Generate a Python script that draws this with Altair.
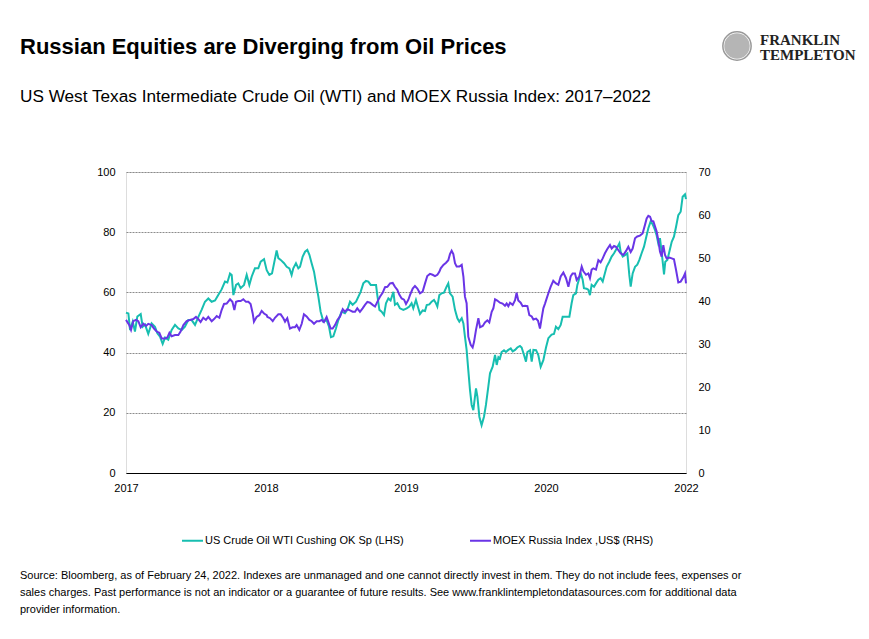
import altair as alt
import pandas as pd

# ---------------- data ----------------
year_ticks = [0, 1, 2, 3, 4]
year_labels = ["2017", "2018", "2019", "2020", "2022"]
left_ticks = [0, 20, 40, 60, 80, 100]
right_ticks = [0, 10, 20, 30, 40, 50, 60, 70]
series_names = ["US Crude Oil WTI Cushing OK Sp (LHS)", "MOEX Russia Index ,US$ (RHS)"]
series_colors = ["#17BEB0", "#6A35E6"]

oil_points = [
    (0.0, 53.3), (0.017, 53), (0.029, 47.5), (0.048, 50.3), (0.064, 47), (0.081, 52), (0.105, 52.8),
    (0.119, 48.6), (0.136, 49.3), (0.159, 46.2), (0.183, 49.7), (0.207, 48.6), (0.224, 46.4),
    (0.243, 45.3), (0.262, 42.9), (0.279, 45), (0.302, 44.3), (0.326, 47.5), (0.350, 49.2),
    (0.374, 48), (0.398, 47.5), (0.421, 48.6), (0.445, 50.8), (0.469, 50.8), (0.493, 49.2),
    (0.517, 51.9), (0.540, 54.2), (0.564, 56.9), (0.588, 58), (0.612, 56.9), (0.636, 57.3),
    (0.659, 59.1), (0.683, 61), (0.707, 63.6), (0.724, 63.3), (0.743, 66.3), (0.755, 65.8),
    (0.767, 59.1), (0.786, 62.5), (0.802, 63), (0.819, 61.4), (0.843, 62.5), (0.862, 65.8),
    (0.881, 62.5), (0.898, 65.3), (0.921, 68), (0.945, 68), (0.962, 70.2), (0.986, 71),
    (1.005, 67.4), (1.024, 65.8), (1.043, 66.3), (1.076, 73.9), (1.088, 71.4), (1.105, 70.8),
    (1.129, 69.7), (1.148, 68.5), (1.167, 68), (1.183, 65.8), (1.195, 68), (1.214, 69.7),
    (1.231, 68), (1.243, 68.5), (1.262, 71.9), (1.279, 73.5), (1.295, 74.1), (1.310, 72.5),
    (1.326, 69.7), (1.343, 66.9), (1.357, 63), (1.374, 58.6), (1.390, 53.6), (1.410, 50.3),
    (1.433, 50.8), (1.450, 48.6), (1.464, 45.1), (1.481, 45.4), (1.500, 48.1), (1.517, 50.8),
    (1.540, 53.6), (1.564, 53.1), (1.581, 54.2), (1.600, 56.9), (1.619, 55.9), (1.643, 56.9),
    (1.660, 58.6), (1.676, 60.2), (1.695, 63), (1.714, 63.8), (1.731, 63.6), (1.748, 62.5),
    (1.767, 62.5), (1.786, 62.5), (1.795, 59.1), (1.810, 54.2), (1.826, 53.6), (1.843, 52.5),
    (1.857, 56.4), (1.874, 58), (1.890, 57.3), (1.910, 60.2), (1.921, 55.9), (1.938, 56.4),
    (1.957, 54.7), (1.981, 54.2), (2.005, 54.7), (2.024, 55.3), (2.040, 56.4), (2.052, 54.7),
    (2.071, 57.5), (2.088, 54.7), (2.100, 52.8), (2.119, 54), (2.136, 53.8), (2.148, 55.8),
    (2.167, 56), (2.183, 56.9), (2.200, 57.5), (2.214, 56.4), (2.224, 55.3), (2.238, 59.1),
    (2.255, 59.7), (2.271, 59.9), (2.290, 61.9), (2.302, 63), (2.314, 59.7), (2.333, 58.6),
    (2.350, 54.2), (2.367, 51.4), (2.381, 50.3), (2.398, 51.4), (2.410, 49.7), (2.421, 45.3),
    (2.433, 40.9), (2.445, 34.2), (2.457, 27.6), (2.469, 22.6), (2.481, 20.9), (2.500, 28.1),
    (2.510, 25.4), (2.524, 18.7), (2.540, 15.9), (2.557, 18.7), (2.571, 22.6), (2.588, 28.7),
    (2.600, 33.1), (2.619, 35.3), (2.636, 39.2), (2.648, 35.9), (2.660, 38.5), (2.671, 38),
    (2.683, 40.2), (2.700, 40.8), (2.714, 40.2), (2.731, 40.9), (2.748, 41.4), (2.762, 40.4),
    (2.779, 40.9), (2.795, 41.7), (2.814, 42.2), (2.826, 41.7), (2.843, 39.2), (2.857, 37),
    (2.867, 40.2), (2.886, 40.8), (2.898, 37), (2.910, 40.9), (2.929, 40.8), (2.945, 39.2),
    (2.962, 35.3), (2.981, 37.5), (3.000, 41.7), (3.017, 44.8), (3.040, 46), (3.057, 46.2),
    (3.071, 48.6), (3.088, 47.8), (3.105, 49.2), (3.119, 51.9), (3.143, 51.9), (3.167, 51.9),
    (3.183, 56.4), (3.195, 59.1), (3.214, 59.7), (3.224, 62.5), (3.238, 64.7), (3.248, 66.3),
    (3.262, 64.2), (3.271, 61.4), (3.290, 61.2), (3.302, 60.9), (3.314, 59.1), (3.326, 62.5),
    (3.343, 61.9), (3.357, 63), (3.374, 64.2), (3.390, 64.7), (3.405, 63.6), (3.414, 65.2),
    (3.433, 68.5), (3.452, 70.2), (3.469, 71.9), (3.486, 73), (3.505, 74.6), (3.524, 76.3),
    (3.533, 73.5), (3.548, 71.9), (3.564, 72.4), (3.581, 73), (3.595, 65.8), (3.605, 61.9),
    (3.619, 66.3), (3.636, 68.5), (3.652, 69.2), (3.667, 70.8), (3.683, 73), (3.700, 75.2),
    (3.714, 78), (3.731, 81.3), (3.748, 83.7), (3.762, 82.6), (3.779, 80.7), (3.790, 79),
    (3.802, 76.3), (3.814, 78), (3.826, 73.5), (3.843, 66), (3.852, 70.2), (3.867, 70.8),
    (3.881, 73.5), (3.898, 76.8), (3.914, 78.5), (3.929, 81.8), (3.945, 85.7), (3.962, 86.8),
    (3.976, 91.8), (3.993, 92.6), (4.0, 91),
]

moex_points = [
    (0.0, 35.6), (0.024, 34.4), (0.036, 33.3), (0.052, 35.3), (0.071, 35.6), (0.088, 35.3),
    (0.105, 33.9), (0.124, 34.7), (0.143, 34.2), (0.159, 34.7), (0.183, 34.4), (0.200, 33.6),
    (0.219, 32.9), (0.238, 32.6), (0.255, 31.3), (0.279, 31.3), (0.295, 31.5), (0.310, 32.6),
    (0.326, 31.8), (0.350, 32.1), (0.374, 32.1), (0.390, 32.9), (0.410, 34.4), (0.433, 35.3),
    (0.457, 35.6), (0.481, 35.8), (0.500, 36.3), (0.517, 35.8), (0.533, 35.1), (0.552, 36.1),
    (0.571, 35.6), (0.588, 36.3), (0.612, 35.3), (0.629, 35.8), (0.648, 36.5), (0.667, 36.1),
    (0.683, 37.9), (0.700, 39.3), (0.719, 39.4), (0.743, 40.4), (0.760, 39.8), (0.774, 37.9),
    (0.786, 39.8), (0.802, 40), (0.819, 40), (0.838, 40.4), (0.857, 39.8), (0.874, 39.8),
    (0.890, 39.3), (0.905, 37.1), (0.914, 35.2), (0.933, 36.3), (0.952, 36.7), (0.969, 37.7),
    (0.986, 37.1), (1.005, 36.7), (1.010, 36.3), (1.029, 36), (1.048, 35.3), (1.064, 36.1),
    (1.088, 36.9), (1.105, 36.9), (1.124, 36), (1.136, 35.2), (1.152, 36), (1.171, 33.6),
    (1.190, 33.9), (1.207, 33.9), (1.219, 34.4), (1.238, 33.3), (1.255, 34.7), (1.271, 36.9),
    (1.290, 36.4), (1.310, 35.6), (1.326, 35.3), (1.343, 34.7), (1.362, 35.3), (1.381, 35.3),
    (1.398, 35.6), (1.414, 35.1), (1.433, 36.3), (1.450, 34.7), (1.462, 33.6), (1.476, 33.6),
    (1.493, 34.4), (1.510, 35.6), (1.529, 36.4), (1.548, 38.1), (1.564, 37.5), (1.581, 38.1),
    (1.600, 37.8), (1.619, 37.5), (1.636, 37.5), (1.652, 38.3), (1.671, 37.5), (1.690, 38.3),
    (1.707, 39.1), (1.724, 39.8), (1.743, 39.6), (1.762, 39.1), (1.779, 38.7), (1.795, 39.8),
    (1.814, 41), (1.833, 41.9), (1.850, 43.2), (1.867, 43.3), (1.886, 44.1), (1.905, 44.2),
    (1.921, 43.3), (1.938, 42.6), (1.952, 41.5), (1.969, 40.6), (1.986, 40.3), (2.000, 39.3),
    (2.017, 40.3), (2.029, 41.4), (2.048, 42.9), (2.064, 43.5), (2.081, 42.9), (2.100, 41.8),
    (2.119, 42.2), (2.136, 44.1), (2.152, 45.8), (2.171, 46.3), (2.190, 46.1), (2.207, 45.8),
    (2.224, 46.1), (2.238, 46.8), (2.248, 47.6), (2.267, 48.4), (2.286, 48.9), (2.302, 49.5),
    (2.314, 50.9), (2.326, 51.7), (2.338, 50.9), (2.350, 48.8), (2.362, 48), (2.381, 48),
    (2.398, 48.4), (2.410, 45.7), (2.421, 41), (2.433, 39.5), (2.445, 31.7), (2.462, 29.8),
    (2.476, 29.2), (2.486, 30.5), (2.500, 33.3), (2.517, 36), (2.529, 33.9), (2.548, 34.2),
    (2.564, 35), (2.581, 35.5), (2.595, 35), (2.612, 37.5), (2.624, 38.3), (2.636, 40.4),
    (2.652, 40.1), (2.671, 39.6), (2.690, 39.4), (2.707, 38.9), (2.719, 39.4), (2.731, 38.8),
    (2.743, 39.6), (2.762, 39.1), (2.779, 40.2), (2.790, 41.9), (2.802, 40.1), (2.819, 39.6),
    (2.833, 38.8), (2.850, 38.9), (2.867, 38.8), (2.881, 36.7), (2.898, 36.4), (2.910, 35.7),
    (2.929, 35.9), (2.943, 35.4), (2.957, 33.6), (2.969, 36), (2.981, 38.3), (2.993, 39.4),
    (3.005, 40.6), (3.017, 41.8), (3.033, 43.3), (3.052, 44.7), (3.071, 44.1), (3.088, 43.8),
    (3.105, 45.7), (3.124, 46.6), (3.143, 45.3), (3.160, 43.3), (3.176, 45.7), (3.190, 46.4),
    (3.207, 46.4), (3.219, 44.9), (3.238, 45.7), (3.255, 48), (3.267, 46.9), (3.286, 46.1),
    (3.302, 46.4), (3.314, 45.3), (3.326, 47.3), (3.338, 47.6), (3.357, 47.3), (3.374, 49.5),
    (3.390, 49), (3.405, 49.9), (3.421, 51.1), (3.438, 52.1), (3.457, 53), (3.469, 52.2),
    (3.486, 52.8), (3.500, 52.6), (3.517, 51.8), (3.533, 51.1), (3.552, 50.7), (3.571, 51.6),
    (3.588, 52.6), (3.605, 51.4), (3.619, 52.2), (3.636, 54.6), (3.652, 55), (3.671, 55.2),
    (3.690, 55.7), (3.707, 57.7), (3.719, 59.2), (3.731, 59.8), (3.743, 59.6), (3.755, 58.6),
    (3.767, 58.5), (3.779, 57.3), (3.790, 56.2), (3.802, 54.2), (3.814, 51.5), (3.826, 50.3),
    (3.838, 53), (3.850, 50.7), (3.862, 49.9), (3.881, 50.1), (3.898, 49.9), (3.914, 49.7),
    (3.929, 47.2), (3.945, 44.3), (3.962, 44.5), (3.981, 45.5), (3.993, 46.4), (4.0, 44.1),
]

title_text = "Russian Equities are Diverging from Oil Prices"
subtitle_text = "US West Texas Intermediate Crude Oil (WTI) and MOEX Russia Index: 2017\u20132022"
footer_lines = [
    "Source: Bloomberg, as of February 24, 2022. Indexes are unmanaged and one cannot directly invest in them. They do not include fees, expenses or",
    "sales charges. Past performance is not an indicator or a guarantee of future results. See www.franklintempletondatasources.com for additional data",
    "provider information.",
]
logo_lines = ["FRANKLIN", "TEMPLETON"]

# ---------------- build ----------------
FONT = "Liberation Sans"
W, H = 560, 301
OX, OY = 126, 172  # page position of plot origin

oil_df = pd.DataFrame(oil_points, columns=["t", "value"]).assign(series=series_names[0])
moex_df = pd.DataFrame(moex_points, columns=["t", "value"]).assign(series=series_names[1])

label_expr = "[" + ",".join("'%s'" % s for s in year_labels) + "][datum.value]"

x_enc = alt.X(
    "t:Q",
    scale=alt.Scale(domain=[0, 4], nice=False, zero=False),
    axis=alt.Axis(
        values=year_ticks, labelExpr=label_expr, title=None, grid=False, ticks=False,
        domain=True, domainColor="#000000", domainWidth=1, labelPadding=9,
        labelFontSize=11, labelFont=FONT, labelColor="#000000", zindex=2,
        labelFlush=False, labelOverlap=False, labelBound=False,
    ),
)

color_enc = alt.Color(
    "series:N",
    scale=alt.Scale(domain=series_names, range=series_colors),
    legend=alt.Legend(
        orient="none", legendX=55, legendY=357, direction="horizontal", title=None,
        symbolType="stroke", symbolSize=440, symbolStrokeWidth=2, labelFontSize=11,
        labelFont=FONT, labelColor="#000000", columnPadding=62, labelOffset=1, padding=0,
        labelLimit=0,
    ),
)

oil_line = alt.Chart(oil_df).mark_line(strokeWidth=2).encode(
    x=x_enc,
    y=alt.Y(
        "value:Q",
        scale=alt.Scale(domain=[0, 100], nice=False),
        axis=alt.Axis(
            values=left_ticks, title=None, grid=True, gridColor="#8c8c8c", gridDash=[2, 1],
            gridWidth=1, domain=False, ticks=False, labelPadding=11, labelFontSize=11,
            labelFont=FONT, labelColor="#000000", orient="left",
        ),
    ),
    color=color_enc,
)

moex_line = alt.Chart(moex_df).mark_line(strokeWidth=2).encode(
    x=x_enc,
    y=alt.Y(
        "value:Q",
        scale=alt.Scale(domain=[0, 70], nice=False),
        axis=alt.Axis(
            values=right_ticks, title=None, grid=False, domain=False, ticks=False,
            labelPadding=12, labelFontSize=11, labelFont=FONT, labelColor="#000000",
            orient="right",
        ),
    ),
    color=color_enc,
)

lines = alt.layer(oil_line, moex_line).resolve_scale(y="independent")


def txt(s, px, py, size, weight="normal", font=FONT, color="#000000", align="left"):
    return alt.Chart(pd.DataFrame({"s": [s]})).mark_text(
        text=s, align=align, baseline="alphabetic", fontSize=size, fontWeight=weight,
        font=font, color=color,
    ).encode(x=alt.value(px - OX), y=alt.value(py - OY))


texts = [
    txt(title_text, 20, 54, 22, "bold"),
    txt(subtitle_text, 20, 102, 17.2),
    txt(logo_lines[0], 760, 45, 15, "bold", "Liberation Serif", "#222222"),
    txt(logo_lines[1], 760, 60, 15, "bold", "Liberation Serif", "#222222"),
]
for i, line in enumerate(footer_lines):
    texts.append(txt(line, 20, 579 + i * 17, 11))

portrait = alt.Chart(pd.DataFrame({"a": [0]})).mark_point(
    shape="circle", filled=True, color="#a8a8a8", size=650, opacity=0.85
).encode(x=alt.value(737 - OX), y=alt.value(46 - OY))
portrait_ring = alt.Chart(pd.DataFrame({"a": [0]})).mark_point(
    shape="circle", filled=False, color="#6e6e6e", size=800, strokeWidth=1.5
).encode(x=alt.value(737 - OX), y=alt.value(46 - OY))

chart = alt.layer(lines, *texts, portrait, portrait_ring).properties(
    width=W, height=H,
    autosize=alt.AutoSizeParams(type="none"),
    padding={"left": OX - 8, "top": OY - 8, "right": 853 - (OX - 8) - W, "bottom": 623 - (OY - 8) - H},
).configure_view(stroke=None).configure(background="#ffffff")

chart.save("out.html", embed_options={"renderer": "svg", "actions": False})
